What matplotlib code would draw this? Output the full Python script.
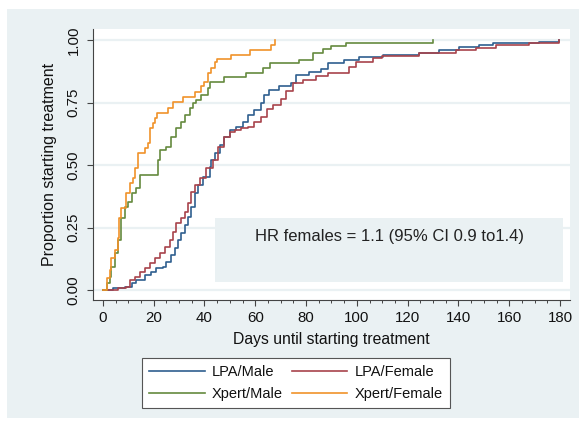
import numpy as np
import matplotlib
matplotlib.use("Agg")
import matplotlib.pyplot as plt
from matplotlib.patches import Rectangle

plt.rcParams["font.family"] = ["Liberation Sans", "DejaVu Sans"]

# Kaplan-Meier style cumulative proportions
lpa_male_days = [0, 4.1, 8.6, 11.3, 13.2, 16.5, 19.1, 21.1, 23.7, 25, 27, 28.3, 29.6,
                 30.9, 32.2, 33.5, 34.8, 36.1, 37.4, 39.4, 42, 42.7, 44, 46, 47.9,
                 49.9, 52.5, 55.1, 57.1, 59.7, 62.4, 63.5, 65.6, 69.5, 74.1, 76.1,
                 81.3, 85.9, 88.5, 95.1, 101, 110.1, 124.6, 132.4, 140.3, 148.1,
                 153.4, 171.7, 179.6]
lpa_male_prop = [0, 0.007, 0.013, 0.027, 0.04, 0.06, 0.073, 0.087, 0.093, 0.113, 0.14,
                 0.167, 0.2, 0.227, 0.26, 0.293, 0.333, 0.387, 0.42, 0.453, 0.493,
                 0.52, 0.547, 0.58, 0.613, 0.64, 0.653, 0.673, 0.70, 0.72, 0.747,
                 0.78, 0.80, 0.815, 0.827, 0.86, 0.873, 0.883, 0.907, 0.92, 0.931,
                 0.94, 0.947, 0.96, 0.971, 0.98, 0.987, 0.993, 1.0]

lpa_female_days = [0, 6, 9.3, 10.6, 12.6, 14.5, 16.5, 18.5, 20.4, 22.4, 24.4, 26.3,
                   27.6, 28.9, 30.9, 32.2, 33.5, 34.8, 36.1, 38.1, 40.7, 43.3, 45.3,
                   47.9, 49.9, 51.9, 54.5, 57.1, 59.7, 62.4, 64.5, 67, 70, 72, 74.8,
                   78.7, 84, 88.5, 97, 99.7, 106.2, 110, 124.6, 139, 146.8, 154.7,
                   167.8, 179.6]
lpa_female_prop = [0, 0.007, 0.013, 0.04, 0.053, 0.073, 0.087, 0.107, 0.127, 0.147,
                   0.173, 0.2, 0.233, 0.267, 0.287, 0.313, 0.347, 0.393, 0.42, 0.447,
                   0.487, 0.52, 0.573, 0.613, 0.633, 0.64, 0.647, 0.653, 0.673, 0.693,
                   0.725, 0.74, 0.765, 0.795, 0.827, 0.84, 0.856, 0.867, 0.893, 0.913,
                   0.927, 0.935, 0.947, 0.96, 0.967, 0.98, 0.989, 1.0]

xpert_male_days = [0, 1.5, 2.8, 3.4, 4.7, 6.0, 7.3, 8.6, 9.9, 11.3, 13.2, 14.5, 21.7,
                   22.4, 25.0, 27.0, 29.0, 30.9, 32.2, 34.2, 35.5, 36.8, 38.8, 41.4,
                   42.0, 47.9, 56.5, 63.0, 66.0, 77.4, 82.6, 86.6, 89.9, 95.8, 129.8]
xpert_male_prop = [0, 0.03, 0.053, 0.093, 0.147, 0.2, 0.287, 0.333, 0.353, 0.387,
                   0.407, 0.46, 0.52, 0.56, 0.573, 0.613, 0.647, 0.673, 0.70, 0.727,
                   0.747, 0.76, 0.78, 0.807, 0.833, 0.853, 0.867, 0.887, 0.907, 0.92,
                   0.947, 0.963, 0.976, 0.989, 1.0]

xpert_female_days = [0, 1.8, 2.8, 3.4, 4.7, 5.8, 6.3, 7.3, 9.3, 10.6, 11.9, 12.6, 13.9,
                     16.5, 17.8, 18.5, 19.8, 20.4, 21.5, 25.7, 27.6, 31.6, 36.1, 38.5,
                     40, 41.4, 42.7, 44, 45, 50.5, 57.8, 66.3, 67.6]
xpert_female_prop = [0, 0.047, 0.08, 0.13, 0.16, 0.21, 0.29, 0.33, 0.39, 0.43, 0.45,
                     0.49, 0.547, 0.567, 0.587, 0.647, 0.667, 0.687, 0.709, 0.73,
                     0.753, 0.773, 0.793, 0.816, 0.833, 0.867, 0.887, 0.913, 0.923,
                     0.94, 0.96, 0.98, 1.0]

labels = ["LPA/Male", "LPA/Female", "Xpert/Male", "Xpert/Female"]
colors = ["#2f5f8f", "#a8434b", "#658a3e", "#f0922a"]

x_ticks = [0, 20, 40, 60, 80, 100, 120, 140, 160, 180]
y_ticks = [0.0, 0.25, 0.5, 0.75, 1.0]
hr_text = "HR females = 1.1 (95% CI 0.9 to1.4)"

BG = "#eaf1f3"
W, H = 579, 421

fig = plt.figure(figsize=(W / 100, H / 100), dpi=100, facecolor="white")
# outer graph region (Stata style), drawn beneath the axes
fig.patches.append(Rectangle((7 / W, 3 / H), 1 - 7 / W, 1 - 12 / H, transform=fig.transFigure,
                             facecolor=BG, edgecolor="none", zorder=-10))

ax = fig.add_axes([93 / W, 1 - 300 / H, (570 - 93) / W, (300 - 29) / H])
ax.set_zorder(1)
ax.set_facecolor("white")
ax.set_xlim(-3.86, 183.9)
ax.set_ylim(-0.04, 1.044)

for y in y_ticks:
    ax.axhline(y, color=BG, lw=1.6, zorder=1)

# HR annotation box
ax.add_patch(Rectangle((44.2, 0.032), 181.2 - 44.2, 0.288 - 0.032,
                       facecolor=BG, edgecolor="none", zorder=1.5))
ax.text(112.7, 0.212, hr_text, ha="center", va="center", fontsize=12, color="#222222",
        zorder=3)

series = [(lpa_male_days, lpa_male_prop), (lpa_female_days, lpa_female_prop),
          (xpert_male_days, xpert_male_prop), (xpert_female_days, xpert_female_prop)]
handles = []
for (d, p), lab, c in zip(series, labels, colors):
    h, = ax.step(d, p, where="post", color=c, lw=1.2, label=lab, zorder=2)
    handles.append(h)

for s in ["top", "right"]:
    ax.spines[s].set_visible(False)
for s in ["left", "bottom"]:
    ax.spines[s].set_color("#444444")
    ax.spines[s].set_linewidth(0.8)

ax.set_xticks(x_ticks)
ax.set_xticks(np.arange(0, 181, 5), minor=True)
ax.set_yticks(y_ticks)
ax.set_yticklabels([f"{v:.2f}" for v in y_ticks], rotation=90, va="center")
ax.tick_params(axis="both", which="major", length=4, width=0.8, color="#444444",
               labelsize=10.8, labelcolor="#111111")
ax.tick_params(axis="x", which="minor", length=2.2, width=0.7, color="#444444")
ax.tick_params(axis="x", pad=4)
ax.tick_params(axis="y", pad=5)

ax.set_xlabel("Days until starting treatment", fontsize=11.3, color="#111111", labelpad=5)
ax.set_ylabel("Proportion starting treatment", fontsize=11.5, color="#111111", labelpad=7)

# legend fills row-wise in the reference: reorder for column-major filling
order = [0, 2, 1, 3]
leg = fig.legend([handles[i] for i in order], [labels[i] for i in order], ncol=2,
                 loc="center", bbox_to_anchor=(296 / W, 1 - 383 / H), fontsize=10.5,
                 handlelength=3.8, handletextpad=0.5, columnspacing=0.6,
                 labelspacing=0.55, borderpad=0.5, fancybox=False, framealpha=1)
leg.get_frame().set_edgecolor("#555555")
leg.get_frame().set_linewidth(0.8)
for t in leg.get_texts():
    t.set_color("#111111")

fig.savefig("out.png", dpi=100, facecolor="white")
